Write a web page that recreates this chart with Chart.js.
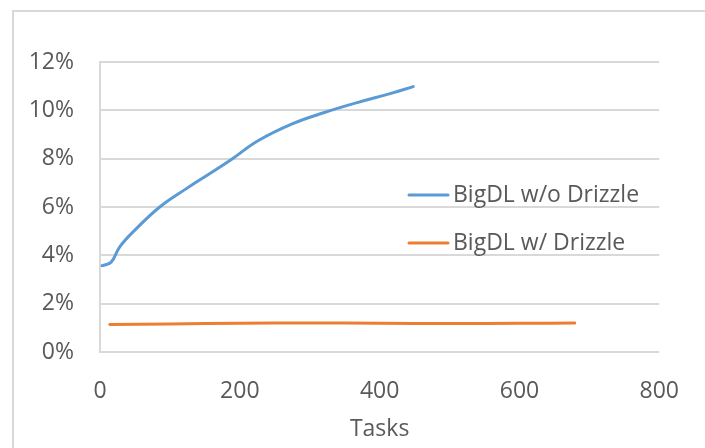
<!DOCTYPE html>
<html>
<head>
<meta charset="utf-8">
<script src="https://cdn.jsdelivr.net/npm/chart.js@4.4.1/dist/chart.umd.min.js"></script>
<style>
  html, body { margin: 0; padding: 0; background: #fff; }
  #wrap { position: relative; width: 705px; height: 448px; }
</style>
</head>
<body>
<div id="wrap"><canvas id="chart" width="705" height="448"></canvas></div>
<script>
// series (tasks on x, percent on y)
const noDrizzleTasks = [3, 16, 28, 47, 85, 123, 160, 189, 226, 274, 321, 368, 415, 448];
const noDrizzleVals  = [3.57, 3.72, 4.34, 4.96, 5.99, 6.75, 7.44, 7.99, 8.74, 9.43, 9.91, 10.32, 10.69, 10.98];
const drizzleTasks   = [14, 100, 200, 300, 400, 500, 600, 679];
const drizzleVals    = [1.14, 1.16, 1.19, 1.2, 1.19, 1.18, 1.19, 1.2];
const seriesNames    = ['BigDL w/o Drizzle', 'BigDL w/ Drizzle'];
const seriesColors   = ['#5B9BD5', '#ED7D31'];
const xTicks = [0, 200, 400, 600, 800];
const yTicks = [0, 2, 4, 6, 8, 10, 12];

const FONT = '"Open Sans", sans-serif';
const TXT = '#595959';
const GRID = '#d9d9d9';

const toPts = (xs, ys) => xs.map((x, i) => ({ x: x, y: ys[i] }));

// frame round the chart + legend drawn inside the plot
const framePlugin = {
  id: 'frame',
  beforeDraw(chart) {
    const ctx = chart.ctx;
    ctx.save();
    ctx.strokeStyle = GRID;
    ctx.lineWidth = 2;
    ctx.beginPath();
    ctx.moveTo(13, 448);
    ctx.lineTo(13, 11);
    ctx.lineTo(705, 11);
    ctx.stroke();
    ctx.restore();
  },
  afterDraw(chart) {
    const ctx = chart.ctx;
    ctx.save();
    ctx.font = '23px ' + FONT;
    ctx.textBaseline = 'middle';
    ctx.textAlign = 'left';
    const rows = [195, 243];
    seriesNames.forEach((name, i) => {
      ctx.strokeStyle = seriesColors[i];
      ctx.lineWidth = 3;
      ctx.lineCap = 'round';
      ctx.beginPath();
      ctx.moveTo(409, rows[i]);
      ctx.lineTo(448, rows[i]);
      ctx.stroke();
      ctx.fillStyle = TXT;
      ctx.fillText(name, 453, rows[i]);
    });
    ctx.restore();
  }
};

new Chart(document.getElementById('chart'), {
  type: 'line',
  data: {
    datasets: [
      {
        label: seriesNames[0],
        data: toPts(noDrizzleTasks, noDrizzleVals),
        borderColor: seriesColors[0],
        borderWidth: 3,
        pointRadius: 0,
        tension: 0.4,
        borderCapStyle: 'round',
        fill: false
      },
      {
        label: seriesNames[1],
        data: toPts(drizzleTasks, drizzleVals),
        borderColor: seriesColors[1],
        borderWidth: 3,
        pointRadius: 0,
        tension: 0.4,
        borderCapStyle: 'round',
        fill: false
      }
    ]
  },
  options: {
    responsive: false,
    animation: false,
    devicePixelRatio: 1,
    layout: { padding: { left: 0, top: 62, right: 40, bottom: 0 } },
    plugins: {
      legend: { display: false },
      tooltip: { enabled: false }
    },
    scales: {
      x: {
        type: 'linear',
        min: 0,
        max: 800,
        afterBuildTicks: (s) => { s.ticks = xTicks.map(v => ({ value: v })); },
        afterFit: (s) => { s.height = 96; },
        grid: { display: false, drawTicks: false },
        border: { display: false },
        ticks: { color: TXT, font: { family: FONT, size: 23 }, padding: 26, maxRotation: 0 },
        title: {
          display: true,
          text: 'Tasks',
          color: TXT,
          font: { family: FONT, size: 23 },
          padding: { top: 0, bottom: 5 }
        }
      },
      y: {
        min: 0,
        max: 12,
        afterBuildTicks: (s) => { s.ticks = yTicks.map(v => ({ value: v })); },
        afterFit: (s) => { s.width = 100; },
        grid: { color: GRID, lineWidth: 2, drawTicks: false },
        border: { display: true, color: GRID, width: 2 },
        ticks: {
          color: TXT,
          font: { family: FONT, size: 23 },
          padding: 26,
          callback: (v) => v + '%'
        }
      }
    }
  },
  plugins: [framePlugin]
});
</script>
</body>
</html>
